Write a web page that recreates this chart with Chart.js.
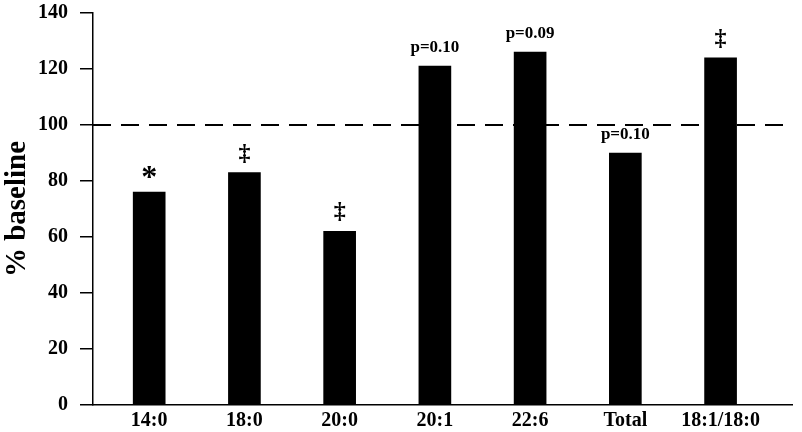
<!DOCTYPE html>
<html>
<head>
<meta charset="utf-8">
<script src="https://cdn.jsdelivr.net/npm/chart.js@4.4.1/dist/chart.umd.min.js"></script>
<style>
  html, body { margin: 0; padding: 0; background: #fff; }
  #wrap { width: 802px; height: 432px; }
</style>
</head>
<body>
<div id="wrap"><canvas id="baselineChart"></canvas></div>
<script>
const categories = ['14:0', '18:0', '20:0', '20:1', '22:6', 'Total', '18:1/18:0'];
const pctBaseline = [76, 83, 62, 121, 126, 90, 124];
const marks = ['*', '‡', '‡', 'p=0.10', 'p=0.09', 'p=0.10', '‡'];
const yTicks = [0, 20, 40, 60, 80, 100, 120, 140];
const baselineLevel = 100;

const serif = '"Liberation Serif", "Times New Roman", serif';
const ink = '#000';

// dashed reference line at 100 % of baseline
const baselinePlugin = {
  id: 'baselineLine',
  beforeDatasetsDraw(chart) {
    const { ctx, chartArea, scales } = chart;
    const y = scales.y.getPixelForValue(baselineLevel);
    ctx.save();
    ctx.strokeStyle = ink;
    ctx.lineWidth = 2;
    ctx.setLineDash([18, 10]);
    ctx.beginPath();
    ctx.moveTo(chartArea.left, y);
    ctx.lineTo(chartArea.right, y);
    ctx.stroke();
    ctx.restore();
  }
};

// significance marks over each bar
const marksPlugin = {
  id: 'sigMarks',
  afterDatasetsDraw(chart) {
    const { ctx } = chart;
    const meta = chart.getDatasetMeta(0);
    ctx.save();
    ctx.fillStyle = ink;
    ctx.textAlign = 'center';
    ctx.textBaseline = 'alphabetic';
    meta.data.forEach((bar, i) => {
      const m = marks[i];
      if (!m) return;
      if (m.startsWith('p')) {
        ctx.font = 'bold 17px ' + serif;
        ctx.fillText(m, bar.x, bar.y - 14);
      } else if (m === '*') {
        ctx.font = 'bold 32px ' + serif;
        ctx.fillText(m, bar.x, bar.y - 5);
      } else {
        ctx.font = 'bold 24px ' + serif;
        ctx.fillText(m, bar.x, bar.y - 13);
      }
    });
    ctx.restore();
  }
};

new Chart(document.getElementById('baselineChart'), {
  type: 'bar',
  data: {
    datasets: [{
      data: categories.map((c, i) => ({ x: i, y: pctBaseline[i] })),
      backgroundColor: ink,
      borderWidth: 0,
      barThickness: 32
    }]
  },
  options: {
    responsive: true,
    maintainAspectRatio: false,
    animation: false,
    layout: { padding: { top: 13, right: 10, left: 0, bottom: 0 } },
    scales: {
      x: {
        type: 'linear',
        offset: false,
        min: -0.59,
        max: 6.75,
        afterBuildTicks: s => { s.ticks = categories.map((c, i) => ({ value: i })); },
        afterFit: s => { s.height = 27; },
        ticks: {
          color: ink,
          font: { family: serif, size: 20, weight: 'bold' },
          padding: 4,
          maxRotation: 0,
          autoSkip: false,
          callback: v => categories[v]
        },
        grid: { display: false, drawTicks: false, offset: false },
        border: { display: true, color: ink, width: 1.5 }
      },
      y: {
        min: 0,
        max: 140,
        afterBuildTicks: s => { s.ticks = yTicks.map(v => ({ value: v })); },
        afterFit: s => { s.width = 93; s.paddingTop = 0; s.paddingBottom = 0; },
        ticks: {
          color: ink,
          font: { family: serif, size: 20, weight: 'bold' },
          padding: 12
        },
        grid: { drawOnChartArea: false, drawTicks: true, tickLength: 13, color: ink, lineWidth: 1.5 },
        border: { display: true, color: ink, width: 1.5 },
        title: {
          display: true,
          text: '% baseline',
          color: ink,
          font: { family: serif, size: 29, weight: 'bold' },
          padding: { top: 0, bottom: 0 }
        }
      }
    },
    plugins: {
      legend: { display: false },
      tooltip: { enabled: false }
    }
  },
  plugins: [baselinePlugin, marksPlugin]
});
</script>
</body>
</html>
